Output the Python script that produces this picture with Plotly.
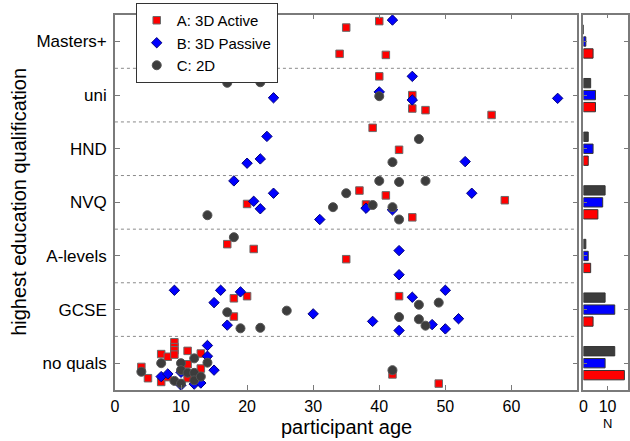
import plotly.graph_objects as go

categories = ["no quals", "GCSE", "A-levels", "NVQ", "HND", "uni", "Masters+"]
series_names = ["A: 3D Active", "B: 3D Passive", "C: 2D"]

# Series A: 3D Active (age, qualification, vertical jitter within band)
a_age = [40, 35, 34, 41,
         40, 45, 45, 47, 57,
         39, 43,
         20, 37, 41, 38, 45, 59,
         17, 21, 35,
         18, 20, 18, 43,
         4, 5, 7, 7, 8, 8, 9, 9, 9, 9, 11, 11, 11, 13, 13, 42, 49]
a_qual = (["Masters+"] * 4 + ["uni"] * 5 + ["HND"] * 2 + ["NVQ"] * 6
          + ["A-levels"] * 3 + ["GCSE"] * 4 + ["no quals"] * 17)
a_jit = [0.38, 0.26, -0.23, -0.25,
         0.35, 0.0, -0.25, -0.28, -0.37,
         0.39, -0.02,
         -0.03, 0.22, 0.13, -0.04, -0.28, 0.04,
         0.22, 0.13, -0.06,
         0.21, 0.25, -0.13, 0.25,
         -0.07, -0.28, 0.17, -0.35, 0.12, -0.26, 0.39, 0.30, 0.24, 0.16,
         0.23, -0.02, -0.28, 0.18, -0.10, -0.21, -0.38]

# Series B: 3D Passive
b_age = [42,
         24, 40, 45, 45, 67,
         23, 22, 20, 53,
         18, 24, 21, 22, 31, 38, 42, 54,
         43, 43,
         9, 16, 19, 15, 30, 17, 50, 45, 39, 48, 52, 43, 50,
         7, 8, 10, 10, 12, 13, 14, 14, 15]
b_qual = (["Masters+"] * 1 + ["uni"] * 5 + ["HND"] * 4 + ["NVQ"] * 8
          + ["A-levels"] * 2 + ["GCSE"] * 13 + ["no quals"] * 9)
b_jit = [0.40,
         -0.05, 0.06, 0.35, -0.09, -0.06,
         0.23, -0.19, -0.27, -0.24,
         0.40, 0.17, 0.02, -0.12, -0.32, -0.11, -0.14, 0.17,
         0.10, -0.35,
         0.36, 0.36, 0.33, 0.13, -0.08, -0.29, 0.36, 0.23, -0.22, -0.28, -0.17, -0.39, -0.36,
         -0.25, -0.20, -0.17, -0.41, -0.39, -0.37, 0.33, 0.13, -0.13]

# Series C: 2D
c_age = [17, 22, 40,
         46, 42,
         14, 33, 35, 40, 43, 47, 39, 42, 43,
         18,
         17, 26, 19, 22, 46, 49, 43, 46, 47,
         4, 7, 9, 10, 10, 10, 11, 12, 12, 12, 13, 14, 42]
c_qual = (["uni"] * 3 + ["HND"] * 2 + ["NVQ"] * 9 + ["A-levels"] * 1
          + ["GCSE"] * 9 + ["no quals"] * 13)
c_jit = [0.23, 0.24, -0.02,
         0.18, -0.25,
         -0.24, -0.09, 0.17, 0.40, 0.38, 0.40, -0.05, -0.09, -0.32,
         0.35,
         -0.05, -0.02, -0.35, -0.34, 0.09, 0.13, -0.14, -0.18, -0.30,
         -0.16, 0.0, -0.33, 0.0, -0.13, -0.38, -0.18, 0.09, -0.18, -0.32, -0.25, 0.01, -0.13]

# Counts per qualification (N), in category order
a_count = [17, 4, 3, 6, 2, 5, 4]
b_count = [9, 13, 2, 8, 4, 5, 1]
c_count = [13, 9, 1, 9, 2, 3, 0]

x_ticks = [0, 10, 20, 30, 40, 50, 60]
n_ticks = [0, 10]

FONT = "Liberation Sans, Arial, sans-serif"
RED, BLUE, DARK = "#ff0000", "#0000ff", "#3c3c3c"
AXIS = "#7a7a7a"

cat_index = {c: i for i, c in enumerate(categories)}


def ypos(quals, jits):
    return [cat_index[q] + j for q, j in zip(quals, jits)]


fig = go.Figure()

fig.add_trace(go.Scatter(
    x=a_age, y=ypos(a_qual, a_jit), mode="markers", name=series_names[0],
    marker=dict(symbol="square", size=7.5, color=RED, line=dict(color="#6a6a6a", width=1)),
    xaxis="x", yaxis="y"))
fig.add_trace(go.Scatter(
    x=b_age, y=ypos(b_qual, b_jit), mode="markers", name=series_names[1],
    marker=dict(symbol="diamond", size=8, color=BLUE, line=dict(color="#00007a", width=1)),
    xaxis="x", yaxis="y"))
fig.add_trace(go.Scatter(
    x=c_age, y=ypos(c_qual, c_jit), mode="markers", name=series_names[2],
    marker=dict(symbol="circle", size=9, color=DARK, line=dict(color="#555555", width=1)),
    xaxis="x", yaxis="y"))

cat_pos = list(range(len(categories)))
for counts, col in [(a_count, RED), (b_count, BLUE), (c_count, DARK)]:
    fig.add_trace(go.Bar(
        x=counts, y=cat_pos, orientation="h", showlegend=False,
        marker=dict(color=col, line=dict(color="#333333", width=1)),
        xaxis="x2", yaxis="y2"))

# dotted separators between qualification bands
for k in range(len(categories) - 1):
    fig.add_shape(type="line", xref="x domain", x0=0, x1=1, yref="y", y0=k + 0.5, y1=k + 0.5,
                  line=dict(color="#8a8a8a", width=1, dash="dot"), layer="below")

y_dom = [1 - 390 / 441, 1 - 14.7 / 441]

fig.update_layout(
    width=630, height=441,
    margin=dict(l=0, r=0, t=0, b=0),
    paper_bgcolor="white", plot_bgcolor="white",
    font=dict(family=FONT, size=16, color="black"),
    barmode="group", bargap=0.33, bargroupgap=0.22,
    showlegend=True,
    legend=dict(x=133 / 630, y=1 - 3 / 441, xanchor="left", yanchor="top",
                bgcolor="white", bordercolor="#333333", borderwidth=1,
                font=dict(family=FONT, size=15, color="black"),
                tracegroupgap=0, itemwidth=30),
    xaxis=dict(domain=[112 / 630, 579 / 630], range=[0, 70], tickvals=x_ticks,
               showgrid=False, zeroline=False, showline=True, linecolor=AXIS, linewidth=1.5,
               mirror="ticks", ticks="inside", ticklen=5, tickcolor=AXIS,
               tickfont=dict(size=16), ticklabelstandoff=1, anchor="y"),
    yaxis=dict(domain=y_dom, range=[-0.5, 6.5], tickvals=cat_pos, ticktext=categories,
               showgrid=False, zeroline=False, showline=True, linecolor=AXIS, linewidth=1.5,
               mirror="ticks", ticks="inside", ticklen=5, tickcolor=AXIS,
               tickfont=dict(size=17), ticklabelstandoff=3, anchor="x"),
    xaxis2=dict(domain=[585 / 630, 1.0], range=[0, 18.5], tickvals=n_ticks,
                showgrid=False, zeroline=False, showline=True, linecolor=AXIS, linewidth=1.5,
                mirror="ticks", ticks="inside", ticklen=4, tickcolor=AXIS,
                tickfont=dict(size=16), ticklabelstandoff=1, anchor="y2"),
    yaxis2=dict(domain=y_dom, range=[-0.5, 6.5], matches="y", tickvals=cat_pos,
                showticklabels=False, showgrid=False, zeroline=False, showline=True,
                linecolor=AXIS, linewidth=1.5, mirror="ticks", ticks="inside", ticklen=4,
                tickcolor=AXIS, anchor="x2"),
    annotations=[
        dict(text="participant age", xref="paper", yref="paper", x=346 / 630, y=1 - 427 / 441,
             showarrow=False, font=dict(size=20), xanchor="center", yanchor="middle"),
        dict(text="highest education qualification", xref="paper", yref="paper",
             x=15 / 630, y=1 - 202 / 441, textangle=-90, showarrow=False,
             font=dict(size=20), xanchor="center", yanchor="middle"),
        dict(text="N", xref="paper", yref="paper", x=609 / 630, y=1 - 423 / 441,
             showarrow=False, font=dict(size=13), xanchor="center", yanchor="middle"),
    ],
)

fig.write_html("out.html",
               config={"displayModeBar": False},
               post_script="document.body.style.margin='0px';document.body.style.overflow='hidden';")
